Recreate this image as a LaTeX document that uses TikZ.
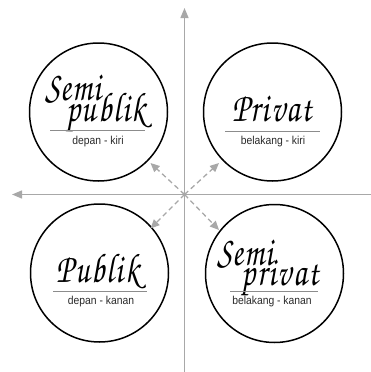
\documentclass[tikz,border=0pt]{standalone}
\usepackage[T1,TU]{fontenc}
\usepackage{fontspec}
\newfontfamily\subfont[FakeStretch=0.9]{Liberation Sans}
\usetikzlibrary{arrows.meta}
\definecolor{axisgray}{HTML}{A8A8A8}
\definecolor{rulegray}{HTML}{8C8C8C}
\definecolor{subtext}{HTML}{2A2A2A}
\newcommand\handfont{\usefont{T1}{pzc}{m}{it}\fontsize{32}{32}\selectfont}
\newcommand\hw[1]{\scalebox{1}[1.3]{#1}}
\begin{document}
\begin{tikzpicture}[x=1pt,y=-1pt,
  ring/.style={circle,draw=black,line width=1.5pt,minimum size=138pt,inner sep=0pt},
  axisline/.style={draw=axisgray,line width=1.3pt,-{Triangle[length=10pt,width=8pt]}},
  dasharrow/.style={draw=axisgray,line width=1.3pt,dash pattern=on 5pt off 3.5pt,-{Triangle[length=9pt,width=8pt]}},
  hand/.style={inner sep=0pt,anchor=base,font=\handfont},
  sub/.style={inner sep=0pt,text=subtext,font=\subfont\fontsize{11.5}{12}\selectfont},
  rule/.style={draw=rulegray,line width=0.9pt}]
\useasboundingbox (0,0) rectangle (371,372);
% axes
\coordinate (o) at (184.5,194.5);
\coordinate (top) at (184.5,8);
\coordinate (bot) at (184.5,372);
\coordinate (lft) at (12,194.5);
\coordinate (rgt) at (371,194.5);
\draw[axisline] (bot) -- (top);
\draw[axisline] (rgt) -- (lft);
% circles
\node[ring] (tl) at (98.5,112) {};
\node[ring] (tr) at (272.5,112) {};
\node[ring] (bl) at (99.5,273) {};
\node[ring] (br) at (274.5,273.5) {};
% dashed arrows
\coordinate (atl) at (150.5,163);
\coordinate (atr) at (219,163);
\coordinate (abl) at (150.5,228.5);
\coordinate (abr) at (219,230);
\draw[dasharrow] (o) -- (atl);
\draw[dasharrow] (o) -- (atr);
\draw[dasharrow] (o) -- (abl);
\draw[dasharrow] (o) -- (abr);
% texts top-left
\node[hand] (tl1) at (73,100) {\hw{S\kern0.8pt e\kern0.8pt m\kern0.8pt i}};
\node[hand] (tl2) at (106,121) {\hw{p\kern1.5pt u\kern1.5pt b\kern1.5pt l\kern1.5pt i\kern1.5pt k}};
\draw[rule] (50,130) -- (145,130);
\node[sub] (tl3) at (98,141.5) {depan - kiri};
% top-right
\node[hand] (tr1) at (272,121) {\hw{P\kern1.5pt r\kern1.5pt i\kern1.5pt v\kern1.5pt a\kern1.5pt t}};
\draw[rule] (225,131.5) -- (320,131.5);
\node[sub] (tr3) at (273,142) {belakang - kiri};
% bottom-left
\node[hand] (bl1) at (98,282) {\hw{P\kern1.5pt u\kern1.5pt b\kern1.5pt l\kern1.5pt i\kern1.5pt k}};
\draw[rule] (53,291) -- (147,291);
\node[sub] (bl3) at (101,301.5) {depan - kanan};
% bottom-right
\node[hand] (br1) at (245,265) {\hw{S\kern0.8pt e\kern0.8pt m\kern0.8pt i}};
\node[hand] (br2) at (280,285) {\hw{p\kern1.5pt r\kern1.5pt i\kern1.5pt v\kern1.5pt a\kern1.5pt t}};
\draw[rule] (230,291) -- (318,291);
\node[sub] (br3) at (272,301.5) {belakang - kanan};
\end{tikzpicture}
\end{document}
